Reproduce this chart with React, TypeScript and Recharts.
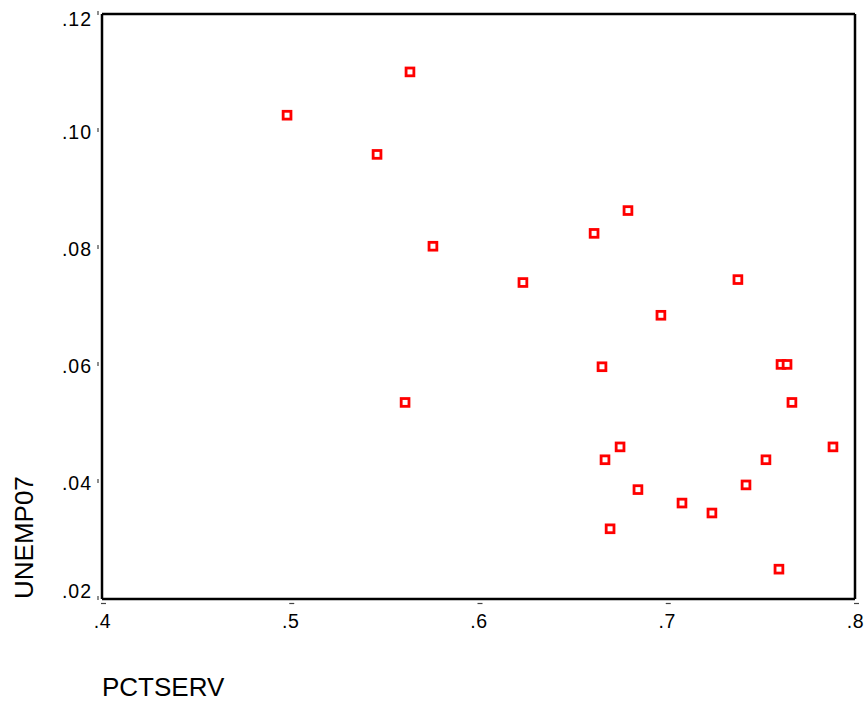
import React from 'react';
import { ScatterChart, Scatter, XAxis, YAxis, Label, ReferenceLine } from 'recharts';

const pctServ = [
  0.4983, 0.5636, 0.5461, 0.5758, 0.5610, 0.6236, 0.6614, 0.6794, 0.6969, 0.6656,
  0.7378, 0.7607, 0.7639, 0.7665, 0.6752, 0.6672, 0.6847, 0.6699, 0.7081, 0.7240,
  0.7421, 0.7527, 0.7883, 0.7596,
];
const unemp07 = [
  0.1027, 0.1101, 0.0960, 0.0803, 0.0536, 0.0741, 0.0825, 0.0864, 0.0685, 0.0597,
  0.0746, 0.0601, 0.0601, 0.0536, 0.0460, 0.0438, 0.0387, 0.0320, 0.0364, 0.0347,
  0.0395, 0.0438, 0.0460, 0.0251,
];
const xTicks = [0.4, 0.5, 0.6, 0.7, 0.8];
const xTickLabels = ['.4', '.5', '.6', '.7', '.8'];
const yTicks = [0.02, 0.04, 0.06, 0.08, 0.1, 0.12];
const yTickLabels = ['.02', '.04', '.06', '.08', '.10', '.12'];

const data = pctServ.map((x, i) => ({ x, y: unemp07[i] }));

const FONT = "Arial, 'Liberation Sans', sans-serif";

const XTick = (props: any) => {
  const { x, y, index } = props;
  return (
    <g>
      <line x1={x - 1} x2={x + 4} y1={y + 4.5} y2={y + 4.5} stroke="#444" strokeWidth={1.2} />
      <text x={x + 0.5} y={y + 28.5} textAnchor="middle" fontSize={19.5} letterSpacing={0.5} fontFamily={FONT} fill="#000">
        {xTickLabels[index]}
      </text>
    </g>
  );
};

const YTick = (props: any) => {
  const { x, y, index } = props;
  const n = yTickLabels.length;
  let dy = 7.5;
  if (index === n - 1) dy = 11.5;
  if (index === 0) dy = -1.5;
  return (
    <g>
      <line x1={x - 4} x2={x - 4} y1={y - 3} y2={y + 1} stroke="#444" strokeWidth={1.2} />
      <text x={x - 10} y={y + dy} textAnchor="end" fontSize={19.5} letterSpacing={1} fontFamily={FONT} fill="#000">
        {yTickLabels[index]}
      </text>
    </g>
  );
};

const SquareMarker = (props: any) => {
  const { cx, cy } = props;
  if (cx == null || cy == null) return null;
  return (
    <rect x={cx - 3.9} y={cy - 3.9} width={7.8} height={7.8} fill="#fff" stroke="#ff0000" strokeWidth={2.8} />
  );
};

const XTitle = (props: any) => {
  const vb = props.viewBox || { x: 102, y: 598 };
  return (
    <text x={vb.x} y={vb.y + 97} fontSize={26} fontFamily={FONT} fill="#000">
      PCTSERV
    </text>
  );
};

const YTitle = (props: any) => {
  const vb = props.viewBox || { x: 0, y: 14, height: 584 };
  const tx = 33;
  const ty = vb.y + vb.height;
  return (
    <text x={tx} y={ty} transform={`rotate(-90, ${tx}, ${ty})`} fontSize={26} fontFamily={FONT} fill="#000">
      UNEMP07
    </text>
  );
};

export default function App() {
  return (
    <div style={{ width: 868, height: 705 }}>
      <style>{`html,body{margin:0;padding:0;overflow:hidden}`}</style>
      <ScatterChart width={868} height={705} margin={{ top: 14, right: 13, bottom: 0, left: 0 }}>
        <XAxis
          xAxisId="main"
          type="number"
          dataKey="x"
          domain={[0.4, 0.8]}
          ticks={xTicks}
          height={106}
          tickSize={0}
          tickMargin={0}
          tickLine={false}
          tick={<XTick />}
          axisLine={{ stroke: '#000', strokeWidth: 2.5 }}
          interval={0}
        >
          <Label content={<XTitle />} />
        </XAxis>
        <YAxis
          yAxisId="main"
          type="number"
          dataKey="y"
          domain={[0.02, 0.12]}
          ticks={yTicks}
          width={102}
          tickSize={0}
          tickMargin={0}
          tickLine={false}
          tick={<YTick />}
          axisLine={{ stroke: '#000', strokeWidth: 2.5 }}
          interval={0}
        >
          <Label content={<YTitle />} />
        </YAxis>
        <ReferenceLine xAxisId="main" yAxisId="main" y={0.12} stroke="#000" strokeWidth={2.5} ifOverflow="visible" />
        <ReferenceLine xAxisId="main" yAxisId="main" x={0.8} stroke="#000" strokeWidth={2.5} ifOverflow="visible" />
        <Scatter
          xAxisId="main"
          yAxisId="main"
          data={data}
          shape={<SquareMarker />}
          isAnimationActive={false}
        />
      </ScatterChart>
    </div>
  );
}
